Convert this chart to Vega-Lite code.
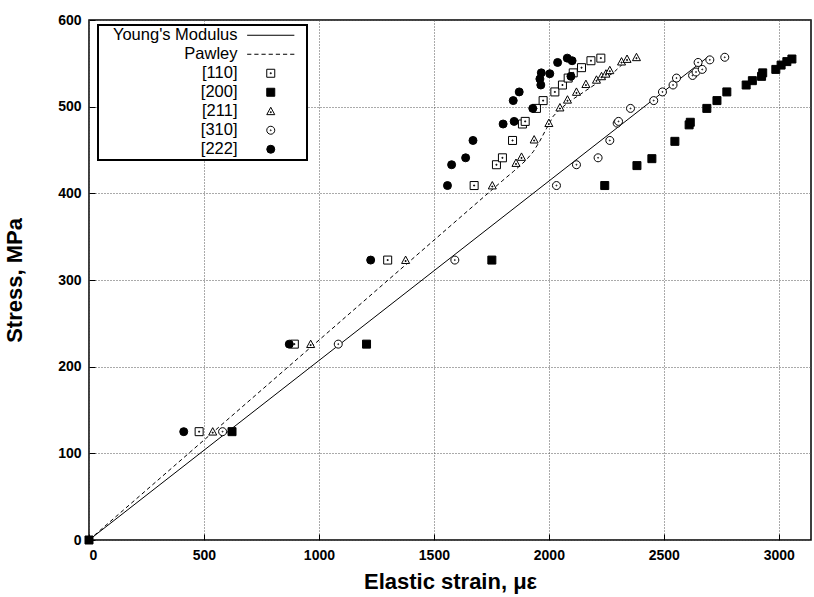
{
  "$schema": "https://vega.github.io/schema/vega-lite/v6.json",
  "width": 722,
  "height": 520,
  "autosize": {"type": "none"},
  "padding": {"left": 89, "top": 20, "right": 3, "bottom": 57},
  "background": "white",
  "config": {
    "font": "Liberation Sans",
    "view": {"stroke": "black", "strokeWidth": 1.5},
    "axis": {
      "domain": false,
      "grid": true,
      "gridColor": "#555555",
      "gridDash": [1, 2],
      "gridWidth": 1,
      "tickColor": "black",
      "tickSize": -6,
      "tickWidth": 1,
      "format": "d",
      "labelFont": "Liberation Sans",
      "labelFontWeight": "bold",
      "labelFontSize": 14,
      "labelColor": "black",
      "titleFont": "Liberation Sans",
      "titleFontWeight": "bold",
      "titleFontSize": 22,
      "titleColor": "black"
    },
    "legend": {
      "orient": "none", "legendX": 9, "legendY": 5, "direction": "vertical", "padding": 2,
      "strokeColor": "black", "fillColor": "white", "strokeWidth": 2,
      "labelAlign": "right", "labelOffset": -41.5, "symbolOffset": 162.5, "rowPadding": 2,
      "symbolSize": 64,
      "labelFontSize": 16.5, "labelFont": "Liberation Sans", "labelColor": "black", "labelLimit": 300,
      "symbolStrokeColor": "black", "symbolStrokeWidth": 1
    }
  },
  "datasets": {
    "young": [
      {"strain": 0, "stress": 0},
      {"strain": 2690, "stress": 557}
    ],
    "pawley": [
      {"strain": 0, "stress": 0},
      {"strain": 1700, "stress": 392},
      {"strain": 1800, "stress": 415},
      {"strain": 1845, "stress": 425},
      {"strain": 1900, "stress": 438},
      {"strain": 1932, "stress": 448},
      {"strain": 1960, "stress": 460},
      {"strain": 1990, "stress": 475},
      {"strain": 2019, "stress": 489},
      {"strain": 2048, "stress": 497},
      {"strain": 2090, "stress": 506},
      {"strain": 2135, "stress": 514},
      {"strain": 2220, "stress": 529},
      {"strain": 2280, "stress": 539},
      {"strain": 2340, "stress": 554}
    ],
    "points": [
      {"series": "[110]", "strain": 479, "stress": 125},
      {"series": "[110]", "strain": 893, "stress": 226},
      {"series": "[110]", "strain": 1299, "stress": 323},
      {"series": "[110]", "strain": 1675, "stress": 409},
      {"series": "[110]", "strain": 1772, "stress": 433},
      {"series": "[110]", "strain": 1798, "stress": 441},
      {"series": "[110]", "strain": 1842, "stress": 461},
      {"series": "[110]", "strain": 1885, "stress": 480},
      {"series": "[110]", "strain": 1897, "stress": 483},
      {"series": "[110]", "strain": 1946, "stress": 498},
      {"series": "[110]", "strain": 1975, "stress": 507},
      {"series": "[110]", "strain": 2026, "stress": 517},
      {"series": "[110]", "strain": 2059, "stress": 525},
      {"series": "[110]", "strain": 2084, "stress": 533},
      {"series": "[110]", "strain": 2106, "stress": 539},
      {"series": "[110]", "strain": 2142, "stress": 545},
      {"series": "[110]", "strain": 2183, "stress": 553},
      {"series": "[110]", "strain": 2226, "stress": 556},
      {"series": "[200]", "strain": 0, "stress": 0},
      {"series": "[200]", "strain": 622, "stress": 125},
      {"series": "[200]", "strain": 1207, "stress": 226},
      {"series": "[200]", "strain": 1752, "stress": 323},
      {"series": "[200]", "strain": 2243, "stress": 409},
      {"series": "[200]", "strain": 2383, "stress": 432},
      {"series": "[200]", "strain": 2448, "stress": 440},
      {"series": "[200]", "strain": 2548, "stress": 460},
      {"series": "[200]", "strain": 2610, "stress": 479},
      {"series": "[200]", "strain": 2615, "stress": 482},
      {"series": "[200]", "strain": 2687, "stress": 498},
      {"series": "[200]", "strain": 2731, "stress": 507},
      {"series": "[200]", "strain": 2774, "stress": 517},
      {"series": "[200]", "strain": 2858, "stress": 525},
      {"series": "[200]", "strain": 2885, "stress": 530},
      {"series": "[200]", "strain": 2925, "stress": 535},
      {"series": "[200]", "strain": 2930, "stress": 539},
      {"series": "[200]", "strain": 2987, "stress": 543},
      {"series": "[200]", "strain": 3010, "stress": 548},
      {"series": "[200]", "strain": 3035, "stress": 552},
      {"series": "[200]", "strain": 3057, "stress": 555},
      {"series": "[211]", "strain": 538, "stress": 125},
      {"series": "[211]", "strain": 964, "stress": 226},
      {"series": "[211]", "strain": 1377, "stress": 323},
      {"series": "[211]", "strain": 1754, "stress": 409},
      {"series": "[211]", "strain": 1857, "stress": 435},
      {"series": "[211]", "strain": 1881, "stress": 442},
      {"series": "[211]", "strain": 1936, "stress": 462},
      {"series": "[211]", "strain": 2000, "stress": 481},
      {"series": "[211]", "strain": 2048, "stress": 499},
      {"series": "[211]", "strain": 2081, "stress": 508},
      {"series": "[211]", "strain": 2120, "stress": 517},
      {"series": "[211]", "strain": 2161, "stress": 526},
      {"series": "[211]", "strain": 2207, "stress": 531},
      {"series": "[211]", "strain": 2229, "stress": 535},
      {"series": "[211]", "strain": 2248, "stress": 538},
      {"series": "[211]", "strain": 2265, "stress": 542},
      {"series": "[211]", "strain": 2316, "stress": 552},
      {"series": "[211]", "strain": 2340, "stress": 555},
      {"series": "[211]", "strain": 2381, "stress": 557},
      {"series": "[310]", "strain": 581, "stress": 125},
      {"series": "[310]", "strain": 1084, "stress": 226},
      {"series": "[310]", "strain": 1591, "stress": 323},
      {"series": "[310]", "strain": 2033, "stress": 409},
      {"series": "[310]", "strain": 2120, "stress": 433},
      {"series": "[310]", "strain": 2214, "stress": 441},
      {"series": "[310]", "strain": 2265, "stress": 461},
      {"series": "[310]", "strain": 2297, "stress": 481},
      {"series": "[310]", "strain": 2303, "stress": 483},
      {"series": "[310]", "strain": 2355, "stress": 498},
      {"series": "[310]", "strain": 2456, "stress": 507},
      {"series": "[310]", "strain": 2494, "stress": 517},
      {"series": "[310]", "strain": 2540, "stress": 525},
      {"series": "[310]", "strain": 2555, "stress": 533},
      {"series": "[310]", "strain": 2625, "stress": 536},
      {"series": "[310]", "strain": 2640, "stress": 540},
      {"series": "[310]", "strain": 2667, "stress": 543},
      {"series": "[310]", "strain": 2649, "stress": 551},
      {"series": "[310]", "strain": 2700, "stress": 554},
      {"series": "[310]", "strain": 2765, "stress": 557},
      {"series": "[222]", "strain": 412, "stress": 125},
      {"series": "[222]", "strain": 871, "stress": 226},
      {"series": "[222]", "strain": 1225, "stress": 323},
      {"series": "[222]", "strain": 1559, "stress": 409},
      {"series": "[222]", "strain": 1577, "stress": 433},
      {"series": "[222]", "strain": 1638, "stress": 441},
      {"series": "[222]", "strain": 1670, "stress": 461},
      {"series": "[222]", "strain": 1801, "stress": 480},
      {"series": "[222]", "strain": 1849, "stress": 483},
      {"series": "[222]", "strain": 1845, "stress": 507},
      {"series": "[222]", "strain": 1871, "stress": 517},
      {"series": "[222]", "strain": 1930, "stress": 498},
      {"series": "[222]", "strain": 1965, "stress": 525},
      {"series": "[222]", "strain": 1961, "stress": 532},
      {"series": "[222]", "strain": 1967, "stress": 539},
      {"series": "[222]", "strain": 2004, "stress": 538},
      {"series": "[222]", "strain": 2038, "stress": 551},
      {"series": "[222]", "strain": 2080, "stress": 556},
      {"series": "[222]", "strain": 2101, "stress": 553},
      {"series": "[222]", "strain": 2096, "stress": 535}
    ]
  },
  "layer": [
    {
      "data": {"name": "young"},
      "mark": {"type": "line", "color": "black", "strokeWidth": 1},
      "encoding": {
        "x": {"field": "strain", "type": "quantitative", "scale": {"domain": [0, 3140], "nice": false},
              "axis": {"values": [0, 500, 1000, 1500, 2000, 2500, 3000], "title": "Elastic strain, με", "labelPadding": 14, "titlePadding": 9}},
        "y": {"field": "stress", "type": "quantitative", "scale": {"domain": [0, 600], "nice": false},
              "axis": {"values": [0, 100, 200, 300, 400, 500, 600], "title": "Stress, MPa", "labelPadding": 14, "titlePadding": 31}}
      }
    },
    {
      "data": {"name": "pawley"},
      "mark": {"type": "line", "color": "black", "strokeWidth": 1, "strokeDash": [4, 3]},
      "encoding": {
        "x": {"field": "strain", "type": "quantitative"},
        "y": {"field": "stress", "type": "quantitative"}
      }
    },
    {
      "data": {"name": "points"},
      "mark": {"type": "point", "filled": true, "strokeWidth": 1, "opacity": 1, "size": 64},
      "encoding": {
        "x": {"field": "strain", "type": "quantitative"},
        "y": {"field": "stress", "type": "quantitative"},
        "shape": {
          "field": "series", "type": "nominal",
          "scale": {
            "domain": ["Young's Modulus", "Pawley", "[110]", "[200]", "[211]", "[310]", "[222]"],
            "range": [
              "M-5.9,0H5.9M8,0",
              "M-5.9,0H-4.85M-4.108,0H-3.058M-2.317,0H-1.267M-0.525,0H0.525M1.267,0H2.317M3.058,0H4.108M4.85,0H5.9M8,0",
              "M-1,-1H1V1H-1Z M-0.12,-0.12H0.12V0.12H-0.12Z",
              "square",
              "M0,-1L1,0.85H-1Z M-0.12,0.12H0.12V0.36H-0.12Z",
              "M-1,0A1,1 0 1,0 1,0A1,1 0 1,0 -1,0Z M-0.12,0A0.12,0.12 0 1,0 0.12,0A0.12,0.12 0 1,0 -0.12,0Z",
              "circle"
            ]
          },
          "legend": {"title": null}
        },
        "fill": {
          "field": "series", "type": "nominal",
          "scale": {
            "domain": ["Young's Modulus", "Pawley", "[110]", "[200]", "[211]", "[310]", "[222]"],
            "range": ["transparent", "transparent", "white", "black", "white", "white", "black"]
          },
          "legend": {"title": null}
        },
        "stroke": {
          "field": "series", "type": "nominal",
          "scale": {
            "domain": ["Young's Modulus", "Pawley", "[110]", "[200]", "[211]", "[310]", "[222]"],
            "range": ["black", "black", "black", "black", "black", "black", "black"]
          },
          "legend": {"title": null}
        }
      }
    }
  ]
}
